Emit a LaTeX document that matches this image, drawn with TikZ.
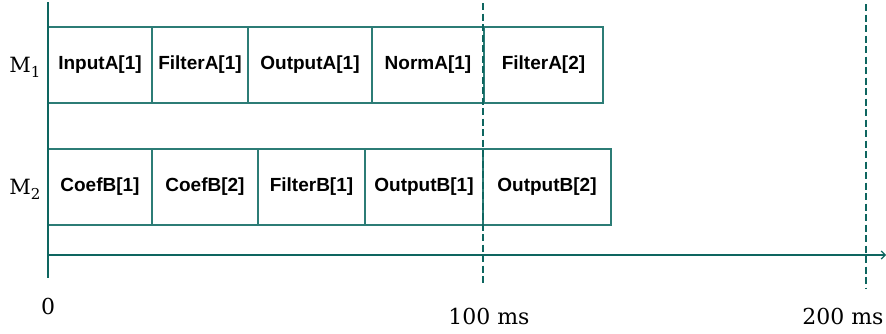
\documentclass[tikz,border=0pt]{standalone}
\usepackage{fontspec}
\newfontfamily\boxfont{Liberation Sans}
\newfontfamily\labfont{DejaVu Serif}
\usetikzlibrary{arrows.meta}
\definecolor{axisteal}{RGB}{14,102,96}
\definecolor{boxteal}{RGB}{44,124,118}
\newcommand{\machlabel}[1]{M\raisebox{-5pt}{\fontsize{15}{16}\selectfont #1}}
\tikzset{
  task/.style={draw=boxteal, line width=1.3pt, minimum height=76pt, inner sep=0pt,
    font=\boxfont\bfseries\fontsize{19}{22}\selectfont},
  axisline/.style={draw=axisteal, line width=2.8pt},
  tline/.style={draw=axisteal, line width=2.2pt},
  mark100/.style={draw=axisteal, line width=2pt, dash pattern=on 7pt off 3.5pt},
  rowlabel/.style={font=\labfont\fontsize{21}{24}\selectfont, inner sep=0pt},
  ticklabel/.style={font=\labfont\fontsize{22}{26}\selectfont, inner sep=0pt}
}
\begin{document}
\begin{tikzpicture}[x=1pt, y=-1pt]
\useasboundingbox (0,0) rectangle (886,333);
% time axes
\coordinate (ytop) at (48,2);
\coordinate (ybot) at (48,278);
\coordinate (xl) at (48,255);
\coordinate (xr) at (886,255);
\draw[tline, -{Straight Barb[length=4pt,width=8pt,line width=1.2pt]}] (xl) -- (xr);
% period markers
\coordinate (p1t) at (483,3);
\coordinate (p1b) at (483,286);
\coordinate (p2t) at (866,4);
\coordinate (p2b) at (866,288);
\draw[mark100] (p2t) -- (p2b);
% machine M1
\node[task, minimum width=104pt] (ia1) at (100,65) {InputA[1]};
\node[task, minimum width=96pt]  (fa1) at (200,65) {FilterA[1]};
\node[task, minimum width=124pt] (oa1) at (310,65) {OutputA[1]};
\node[task, minimum width=112pt] (na1) at (428,65) {NormA[1]};
\node[task, minimum width=119pt] (fa2) at (543.5,65) {FilterA[2]};
% machine M2
\node[task, minimum width=104pt] (cb1) at (100,187) {CoefB[1]};
\node[task, minimum width=106pt] (cb2) at (205,187) {CoefB[2]};
\node[task, minimum width=107pt] (fb1) at (311.5,187) {FilterB[1]};
\node[task, minimum width=118pt] (ob1) at (424,187) {OutputB[1]};
\node[task, minimum width=128pt] (ob2) at (547,187) {OutputB[2]};
% vertical axis and first marker drawn over the box edges
\draw[axisline] (ytop) -- (ybot);
\draw[mark100] (p1t) -- (p1b);
% labels
\node[rowlabel] (m1) at (25,67) {\machlabel{1}};
\node[rowlabel] (m2) at (25,189) {\machlabel{2}};
\node[ticklabel] (t0) at (48,306) {0};
\node[ticklabel] (t100) at (489,316) {100 ms};
\node[ticklabel] (t200) at (843,316) {200 ms};
\end{tikzpicture}
\end{document}
